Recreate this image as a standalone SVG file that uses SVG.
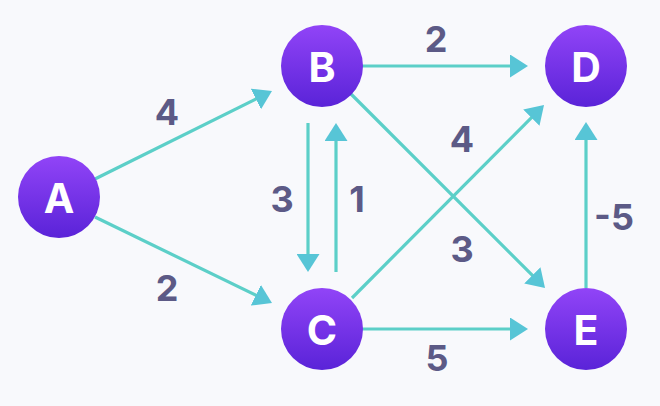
<svg xmlns="http://www.w3.org/2000/svg" width="660" height="406" viewBox="0 0 660 406">
<defs>
<linearGradient id="ng" x1="0" y1="0" x2="0" y2="1">
<stop offset="0" stop-color="#9144f7"/>
<stop offset="1" stop-color="#5a23d8"/>
</linearGradient>
<marker id="ah" markerUnits="userSpaceOnUse" markerWidth="18" markerHeight="23" refX="14" refY="11.5" orient="auto" viewBox="0 0 18 23">
<path d="M0,0 L18,11.5 L0,23 Z" fill="#57c5d6"/>
</marker>
<style>
.e{stroke:#5ccfc8;stroke-width:3.2;fill:none;marker-end:url(#ah)}
.n{fill:url(#ng)}
.nl{font-family:Inter,"Open Sans","DejaVu Sans",sans-serif;font-weight:700;font-size:41px;fill:#ffffff;text-anchor:middle}
.l{font-family:Inter,"Open Sans","DejaVu Sans",sans-serif;font-weight:700;font-size:36px;fill:#5c5a86;text-anchor:middle}
</style>
</defs>
<rect width="660" height="406" fill="#f8f9fc"/>
<g id="connectors">
<line class="e" x1="95" y1="179" x2="268.4" y2="92.8"/>
<line class="e" x1="95" y1="217" x2="268.4" y2="301.3"/>
<line class="e" x1="362" y1="66" x2="524" y2="66"/>
<line class="e" x1="362" y1="329" x2="524" y2="329"/>
<line class="e" x1="350" y1="93" x2="542.2" y2="285.2"/>
<line class="e" x1="352" y1="298" x2="541.2" y2="107.8"/>
<line class="e" x1="308" y1="123" x2="308" y2="268"/>
<line class="e" x1="336" y1="272" x2="336" y2="127"/>
<line class="e" x1="586" y1="288" x2="586" y2="126"/>
<text class="l" x="167" y="125">4</text>
<text class="l" x="167" y="301">2</text>
<text class="l" x="436" y="52">2</text>
<text class="l" x="437" y="371">5</text>
<text class="l" x="462" y="152">4</text>
<text class="l" x="462" y="262">3</text>
<text class="l" x="282" y="212">3</text>
<text class="l" x="357" y="212">1</text>
<text class="l" x="614" y="230">-5</text>
</g>
<g id="node-A"><circle class="n" cx="59" cy="197" r="41"/><text class="nl" x="59" y="213">A</text></g>
<g id="node-B"><circle class="n" cx="322" cy="66" r="41"/><text class="nl" x="322" y="82">B</text></g>
<g id="node-C"><circle class="n" cx="322" cy="329" r="41"/><text class="nl" x="322" y="345">C</text></g>
<g id="node-D"><circle class="n" cx="586" cy="66" r="41"/><text class="nl" x="586" y="82">D</text></g>
<g id="node-E"><circle class="n" cx="586" cy="329" r="41"/><text class="nl" x="586" y="345">E</text></g>
</svg>
